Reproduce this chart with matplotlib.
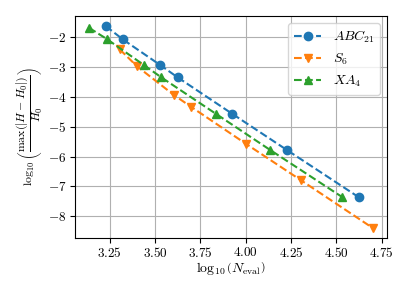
import matplotlib
matplotlib.use('Agg')
import matplotlib.pyplot as plt

plt.rcParams['font.family'] = 'serif'
plt.rcParams['font.serif'] = ['cmr10']
plt.rcParams['mathtext.fontset'] = 'cm'
plt.rcParams['axes.formatter.use_mathtext'] = True
plt.rcParams['font.size'] = 9.5
plt.rcParams['xtick.major.pad'] = 2
plt.rcParams['ytick.major.pad'] = 2.5

# log10 of number of evaluations and log10 of relative energy error
abc_x = [3.228, 3.323, 3.527, 3.625, 3.926, 4.227, 4.623]
abc_y = [-1.63, -2.08, -2.93, -3.35, -4.57, -5.78, -7.36]

s6_x = [3.305, 3.401, 3.602, 3.700, 4.003, 4.304, 4.700]
s6_y = [-2.41, -2.98, -3.93, -4.34, -5.58, -6.79, -8.39]

xa_x = [3.136, 3.233, 3.437, 3.535, 3.836, 4.135, 4.533]
xa_y = [-1.69, -2.06, -2.93, -3.35, -4.57, -5.78, -7.36]

fig = plt.figure(figsize=(4.09, 2.90), dpi=100)
ax = fig.add_axes([0.183, 0.179, 0.763, 0.766])

ax.plot(abc_x, abc_y, linestyle='--', marker='o', color='tab:blue', label=r'$ABC_{21}$')
ax.plot(s6_x, s6_y, linestyle='--', marker='v', color='tab:orange', label=r'$S_6$')
ax.plot(xa_x, xa_y, linestyle='--', marker='^', color='tab:green', label=r'$XA_4$')

ax.set_xlabel(r'$\log_{10}\left(N_{\mathrm{eval}}\right)$', fontsize=10, labelpad=0)
ax.set_ylabel(r'$\log_{10}\left(\dfrac{\max(|H-H_0|)}{H_0}\right)$', fontsize=8.5, labelpad=2)
ax.grid(True)
ax.legend(loc='upper right', fontsize=10)

fig.savefig('out.png', dpi=100)
